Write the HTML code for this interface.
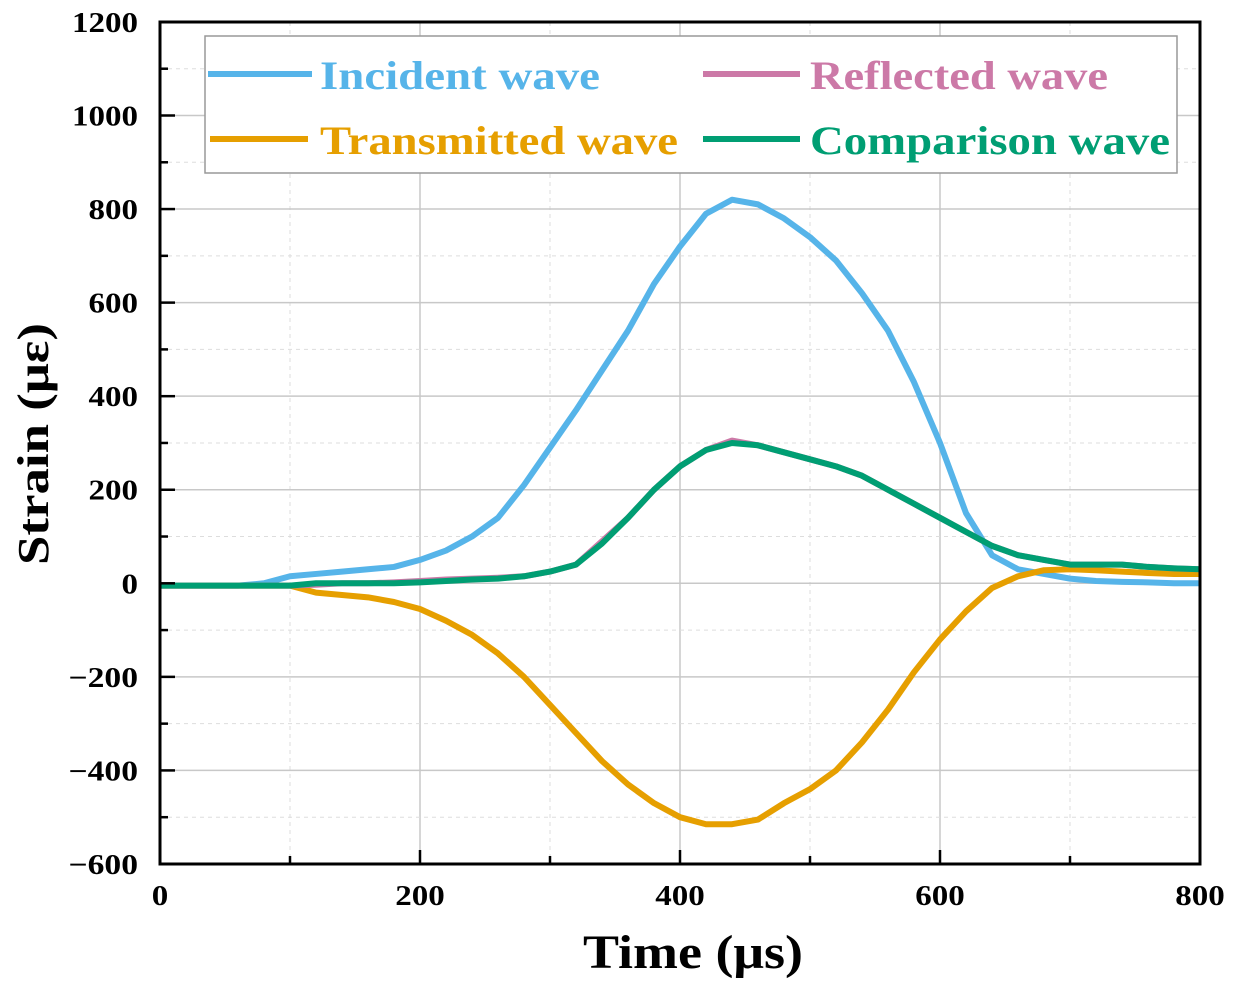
<!DOCTYPE html>
<html><head><meta charset="utf-8"><style>
body{margin:0;background:#fff}
svg{display:block;font-family:"Liberation Serif",serif;font-weight:bold}
</style></head><body>
<svg id="c" width="1233" height="988"></svg>
<script>
const times=[0,20,40,60,80,100,120,140,160,180,200,220,240,260,280,300,320,340,360,380,400,420,440,460,480,500,520,540,560,580,600,620,640,660,680,700,720,740,760,780,800];
const incident=[-5,-5,-5,-5,0,15,20,25,30,35,50,70,100,140,210,290,370,455,540,640,720,790,820,810,780,740,690,620,540,430,300,150,60,30,20,10,5,3,2,0,0];
const reflected=[-5,-5,-5,-5,-5,-5,-3,0,0,2,5,8,10,12,15,25,40,90,140,200,250,285,305,295,280,265,250,230,200,170,140,110,80,60,50,40,40,40,35,32,30];
const transmitted=[-5,-5,-5,-5,-5,-5,-20,-25,-30,-40,-55,-80,-110,-150,-200,-260,-320,-380,-430,-470,-500,-515,-515,-505,-470,-440,-400,-340,-270,-190,-120,-60,-10,15,28,30,28,25,22,20,20];
const comparison=[-5,-5,-5,-5,-5,-5,0,0,0,0,2,5,8,10,15,25,40,85,140,200,250,285,300,295,280,265,250,230,200,170,140,110,80,60,50,40,40,40,35,32,30];
const xTicks=[0,200,400,600,800];
const yTicks=[-600,-400,-200,0,200,400,600,800,1000,1200];
const NS='http://www.w3.org/2000/svg';
const svg=document.getElementById('c');
const X=t=>160+t*1.3, Y=v=>583.3-v*0.4678;
function mk(tag,a,p){const e=document.createElementNS(NS,tag);for(const k in a)e.setAttribute(k,a[k]);(p||svg).appendChild(e);return e;}
for(let t=100;t<800;t+=100){const l=mk('line',{x1:X(t),x2:X(t),y1:22,y2:864,stroke:t%200?'#ddd':'#c8c8c8','stroke-width':t%200?1:1.5,'stroke-dasharray':t%200?'4 4':''});

}
for(let v=-500;v<1200;v+=100){const l=mk('line',{x1:160,x2:1200,y1:Y(v),y2:Y(v),stroke:v%200?'#ddd':'#c8c8c8','stroke-width':v%200?1:1.5,'stroke-dasharray':v%200?'4 4':''});

}
function series(arr,col,name){const d=times.map((t,i)=>(i?'L':'M')+X(t)+','+Y(arr[i])).join('');
const p=mk('path',{d:d,fill:'none',stroke:col,'stroke-width':6,'stroke-linejoin':'round'});

}
series(incident,'#56b4e9','incident-wave-line');
series(transmitted,'#e69f00','transmitted-wave-line');
series(reflected,'#cc79a7','reflected-wave-line');
series(comparison,'#009e73','comparison-wave-line');
const f=mk('rect',{x:160,y:22,width:1040,height:842,fill:'none',stroke:'#000','stroke-width':3});


for(let t=0;t<=800;t+=100){mk('line',{x1:X(t),x2:X(t),y1:864,y2:t%200?856:850,stroke:'#000','stroke-width':2.5});}
for(let v=-600;v<=1200;v+=100){mk('line',{x1:160,x2:v%200?168:175,y1:Y(v),y2:Y(v),stroke:'#000','stroke-width':2.5});}
xTicks.forEach(t=>{const s=String(t);const e=mk('text',{x:X(t),y:905,'text-anchor':'middle','font-size':28,textLength:s.length*16.5,lengthAdjust:'spacingAndGlyphs'});e.textContent=s;

});
yTicks.forEach(v=>{const s=v<0?'\u2212'+(-v):String(v);const e=mk('text',{x:138,y:Y(v)+10,'text-anchor':'end','font-size':28,textLength:(v<0?20:0)+String(Math.abs(v)).length*16.5,lengthAdjust:'spacingAndGlyphs'});e.textContent=s;

});
</script>
<svg style="position:absolute;left:0;top:0" width="1233" height="988">
<g font-family="Liberation Serif,serif" font-weight="bold">
<text x="583" y="968" font-size="48" textLength="220" lengthAdjust="spacingAndGlyphs">Time (μs)</text>
<text transform="translate(48,565) rotate(-90)" font-size="44" textLength="242" lengthAdjust="spacingAndGlyphs">Strain (με)</text>
<g>
<rect x="205" y="36" width="972" height="137" fill="#fff" stroke="#999" stroke-width="1.5"/>
<line x1="208" x2="312" y1="74" y2="74" stroke="#56b4e9" stroke-width="6"/>
<text x="320" y="89" font-size="40" textLength="280" lengthAdjust="spacingAndGlyphs" fill="#56b4e9">Incident wave</text>
<line x1="703" x2="800" y1="74" y2="74" stroke="#cc79a7" stroke-width="6"/>
<text x="810" y="89" font-size="40" textLength="298" lengthAdjust="spacingAndGlyphs" fill="#cc79a7">Reflected wave</text>
<line x1="210" x2="308" y1="139" y2="139" stroke="#e69f00" stroke-width="6"/>
<text x="320" y="154" font-size="40" textLength="358" lengthAdjust="spacingAndGlyphs" fill="#e69f00">Transmitted wave</text>
<line x1="703" x2="800" y1="139" y2="139" stroke="#009e73" stroke-width="6"/>
<text x="810" y="154" font-size="40" textLength="360" lengthAdjust="spacingAndGlyphs" fill="#009e73">Comparison wave</text>
</g></g></svg>
</body></html>
